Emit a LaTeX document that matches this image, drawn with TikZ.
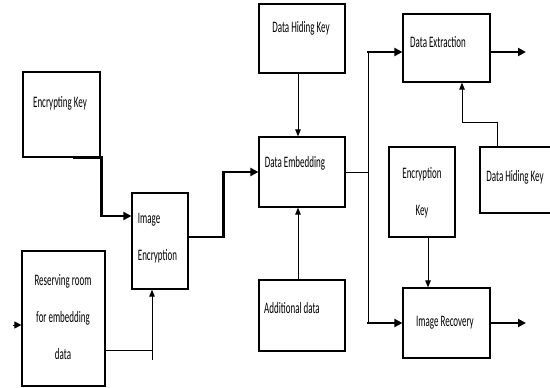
\documentclass[tikz,border=0pt]{standalone}
\usepackage{fontspec}
\setmainfont[FakeStretch=0.56]{Carlito}
\usetikzlibrary{arrows.meta}

\begin{document}
\begin{tikzpicture}[
                    x=1pt, y=-1pt,
                    block/.style={rectangle, draw=black, line width=1.2pt, inner sep=0pt},
                    box_text/.style={font=\fontsize{16}{37}\selectfont, align=center, inner sep=0pt},
                    thin_line/.style={draw=black, line width=1pt},
                    thin_arrow/.style={thin_line, -{Triangle[length=7pt, width=5.5pt]}},
                    thick_line/.style={draw=black, line width=2.8pt},
                    thick_arrow/.style={thick_line, -{Triangle[length=8pt, width=8pt]}}
                ]
                    \clip (0,0) rectangle (550,388);
                    \fill[white] (0,0) rectangle (550,388);

                    % left column
                    \node[block, minimum width=77pt, minimum height=85pt] (enc_key) at (61.5,114.5) {};
                    \node[box_text] (enc_key_text) at (60,103) {Encrypting Key};
                    \node[block, minimum width=83pt, minimum height=135pt] (res_room) at (63.5,318.5) {};
                    \node[box_text] (res_room_text) at (63,317.5) {Reserving room\\for embedding\\data};
                    \node[block, minimum width=56pt, minimum height=96pt] (img_enc) at (160,241) {};
                    \node[box_text, align=left] (img_enc_text) at (157.5,238.5) {Image\\Encryption};

                    % middle column
                    \node[block, minimum width=86pt, minimum height=69pt] (dh_key) at (302,38.5) {};
                    \node[box_text] (dh_key_text) at (301,28) {Data Hiding Key};
                    \node[block, minimum width=86pt, minimum height=70pt] (data_emb) at (302,172) {};
                    \node[box_text] (data_emb_text) at (295,163) {Data Embedding};
                    \node[block, minimum width=86pt, minimum height=71pt] (add_data) at (302,315.5) {};
                    \node[box_text] (add_data_text) at (292,308) {Additional data};

                    % right column
                    \node[block, minimum width=87pt, minimum height=68pt] (data_ext) at (446.5,48) {};
                    \node[box_text] (data_ext_text) at (438,42) {Data Extraction};
                    \node[block, minimum width=80pt, minimum height=66pt] (dh_key2) at (520,180) {};
                    \node[box_text] (dh_key2_text) at (515,177) {Data Hiding Key};
                    \node[block, minimum width=66pt, minimum height=90pt] (encr_key) at (422,192) {};
                    \node[box_text] (encr_key_text) at (422,193) {Encryption\\Key};
                    \node[block, minimum width=87pt, minimum height=70pt] (img_rec) at (446.5,323) {};
                    \node[box_text] (img_rec_text) at (445,323) {Image Recovery};

                    % free ends and joints
                    \coordinate (in_pt) at (13,325);
                    \coordinate (join) at (152,350);
                    \coordinate (split) at (368,172);
                    \coordinate (out_ext) at (526,52);
                    \coordinate (out_rec) at (526,323);

                    % connectors
                    \draw[thin_arrow, -{Triangle[length=7pt, width=7pt]}] (in_pt) -- (in_pt -| res_room.west);
                    \draw[thick_arrow] ([xshift=-28pt]enc_key.south east) -- ([xshift=1pt]enc_key.south east)
                        |- ([yshift=25pt]img_enc.west);
                    \draw[thin_line] (join -| res_room.east) -- (join);
                    \draw[thin_arrow] ([yshift=-10pt]join) -- (join |- img_enc.south);
                    \draw[thick_arrow] ([yshift=4pt]img_enc.east) -- ++(35,0) |- (data_emb.west);
                    \draw[thin_arrow] (dh_key.south -| 298,0) -- (data_emb.north -| 298,0);
                    \draw[thin_arrow] (add_data.north -| 298,0) -- (data_emb.south -| 298,0);
                    \draw[thin_line] (data_emb.east) -- (split);
                    \draw[thin_line] (split |- out_ext) -- (split |- out_rec);
                    \draw[thick_arrow] ([xshift=-1pt]split |- out_ext) -- (out_ext -| data_ext.west);
                    \draw[thick_arrow] ([xshift=-1pt]split |- out_rec) -- (img_rec.west);
                    \draw[thick_arrow] (out_ext -| data_ext.east) -- (out_ext);
                    \draw[thick_arrow] (img_rec.east) -- (out_rec);
                    \draw[thin_arrow] (dh_key2.north -| 497,0) -- ++(0,-24) -| (data_ext.south -| 462,0);
                    \draw[thin_arrow] (encr_key.south -| 428,0) -- (img_rec.north -| 428,0);
                \end{tikzpicture}
\end{document}
